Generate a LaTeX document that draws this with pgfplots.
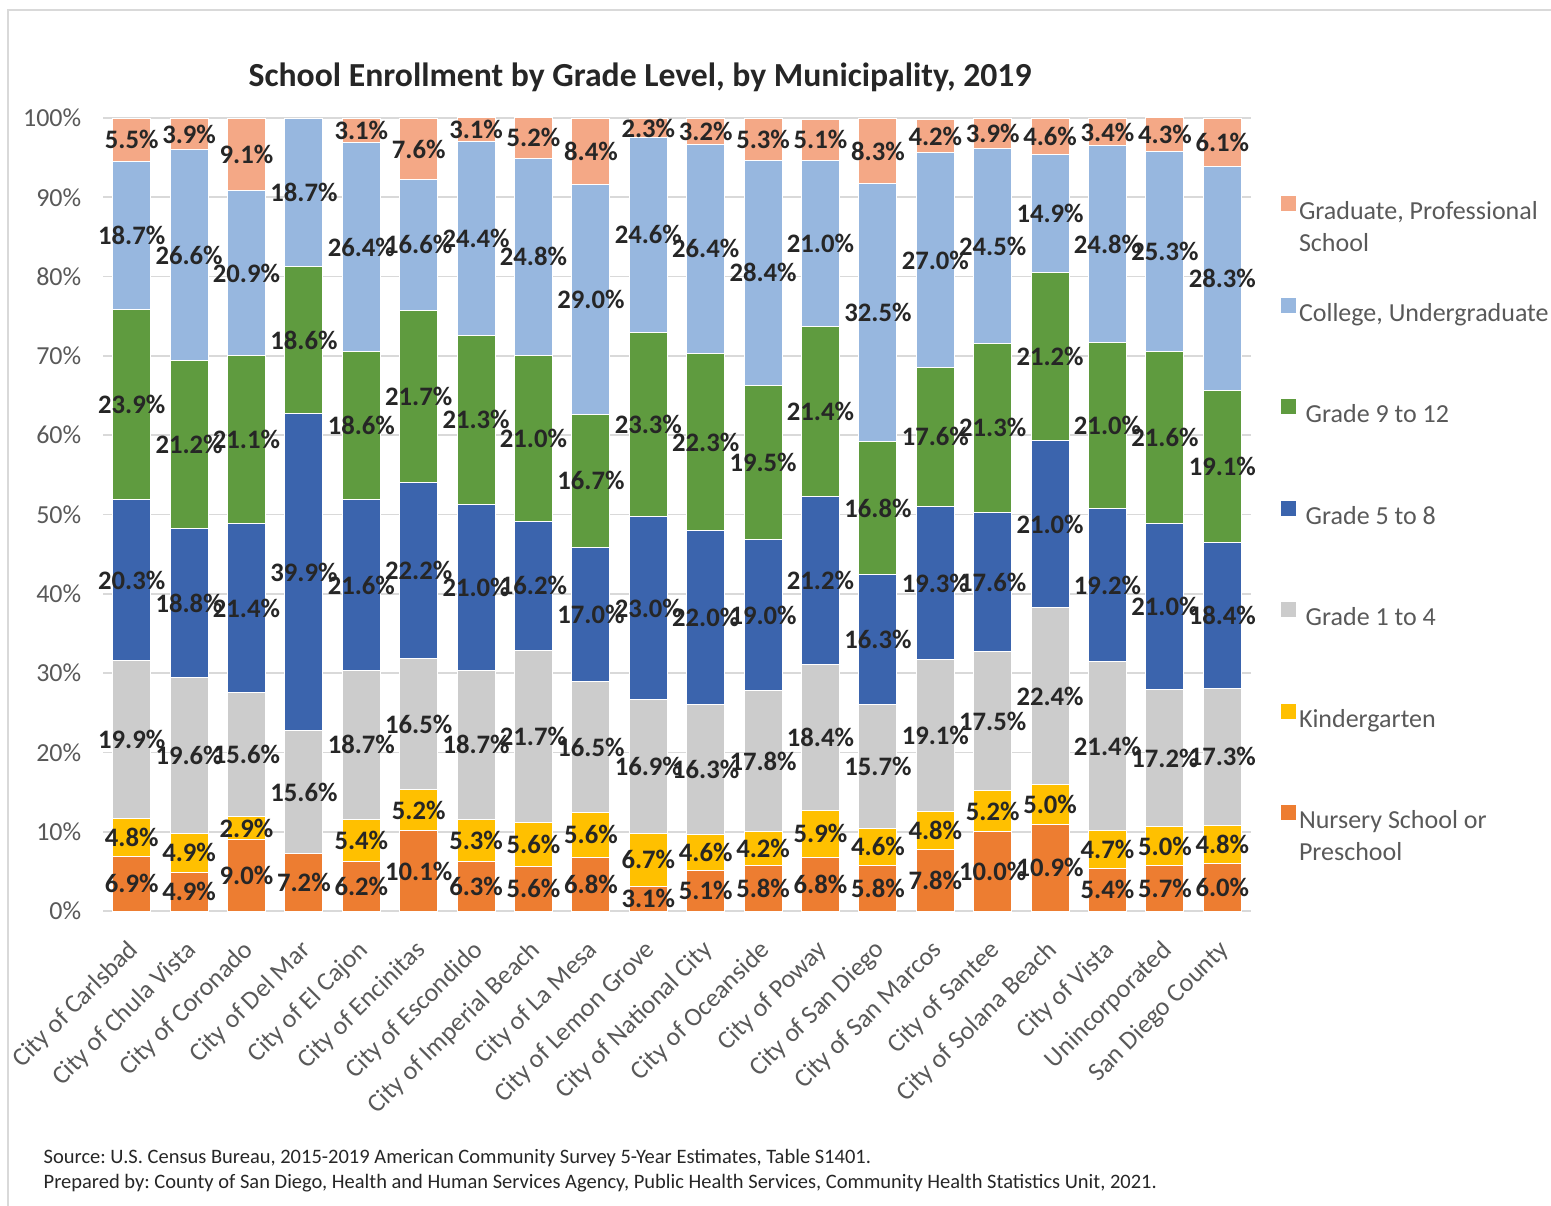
\documentclass[border=0pt]{standalone}
\usepackage{pgfplots}
\pgfplotsset{compat=1.18}
\usepackage{pgfplotstable}
\usepackage{fontspec}
\setmainfont{Carlito}
\frenchspacing
\definecolor{cNur}{HTML}{ED7D31}
\definecolor{cKin}{HTML}{FFC000}
\definecolor{cGa}{HTML}{CCCCCC}
\definecolor{cGb}{HTML}{3B64AD}
\definecolor{cGc}{HTML}{5F9B3F}
\definecolor{cCol}{HTML}{97B7DF}
\definecolor{cGrad}{HTML}{F4A886}
\definecolor{txtgray}{HTML}{595959}
\definecolor{lbl}{HTML}{262626}
\definecolor{gridc}{HTML}{D9D9D9}

\pgfplotstableread{
x nur kin ga gb gc col grad
0 6.9 4.8 19.9 20.3 23.9 18.7 5.5
1 4.9 4.9 19.6 18.8 21.2 26.6 3.9
2 9.0 2.9 15.6 21.4 21.1 20.9 9.1
3 7.2 0.0 15.6 39.9 18.6 18.7 0.0
4 6.2 5.4 18.7 21.6 18.6 26.4 3.1
5 10.1 5.2 16.5 22.2 21.7 16.6 7.6
6 6.3 5.3 18.7 21.0 21.3 24.4 3.1
7 5.6 5.6 21.7 16.2 21.0 24.8 5.2
8 6.8 5.6 16.5 17.0 16.7 29.0 8.4
9 3.1 6.7 16.9 23.0 23.3 24.6 2.3
10 5.1 4.6 16.3 22.0 22.3 26.4 3.2
11 5.8 4.2 17.8 19.0 19.5 28.4 5.3
12 6.8 5.9 18.4 21.2 21.4 21.0 5.1
13 5.8 4.6 15.7 16.3 16.8 32.5 8.3
14 7.8 4.8 19.1 19.3 17.6 27.0 4.2
15 10.0 5.2 17.5 17.6 21.3 24.5 3.9
16 10.9 5.0 22.4 21.0 21.2 14.9 4.6
17 5.4 4.7 21.4 19.2 21.0 24.8 3.4
18 5.7 5.0 17.2 21.0 21.6 25.3 4.3
19 6.0 4.8 17.3 18.4 19.1 28.3 6.1
}\data

\newcommand\axH{237.9}
\newcommand\lstrut{\rule[-2pt]{0pt}{8pt}}

\begin{document}
\begin{tikzpicture}
\useasboundingbox (0,0) rectangle (465.3pt,-361.5pt);
\draw[gridc, line width=0.4pt] (2.4pt,-365pt) -- (2.4pt,-3pt) -- (470pt,-3pt);
\begin{axis}[
  at={(30.9pt,-273.3pt)}, anchor=south west,
  scale only axis, width=344.4pt, height=\axH pt,
  ybar stacked, bar width=11.4pt,
  xmin=-0.5, xmax=19.5, ymin=0, ymax=100,
  xtick={0,...,19},
  xticklabels={City of Carlsbad, City of Chula Vista, City of Coronado, City of Del Mar, City of El Cajon, City of Encinitas, City of Escondido, City of Imperial Beach, City of La Mesa, City of Lemon Grove, City of National City, City of Oceanside, City of Poway, City of San Diego, City of San Marcos, City of Santee, City of Solana Beach, City of Vista, Unincorporated, San Diego County},
  ytick={0,10,...,100},
  yticklabel={\pgfmathprintnumber{\tick}\%},
  /pgf/number format/assume math mode=true,
  axis line style={draw=none},
  major tick length=0pt,
  ymajorgrids, grid style={gridc, line width=0.5pt},
  yticklabel style={font=\fontsize{7.8}{9.4}\selectfont, text=txtgray, xshift=-3pt},
  xticklabel style={xshift=-1.5pt, yshift=-8pt, rotate=45, anchor=north east, inner sep=0pt, font=\fontsize{7.8}{9.4}\selectfont, text=txtgray},
  clip=false,
  every axis plot/.append style={draw=white, line width=0.3pt},
  nodes near coords={\pgfmathprintnumber[fixed,fixed zerofill,precision=1]{\pgfplotspointmeta}\%},
  every node near coord/.append style={anchor=center, inner sep=0pt, font=\fontsize{8}{9.6}\selectfont\bfseries, text=lbl},
  legend style={at={(1,1)}, anchor=north west, xshift=8.7pt, yshift=-23.2pt, draw=none, fill=none, font=\fontsize{7.8}{9.6}\selectfont, text=txtgray, row sep=20.9pt, inner sep=0pt, nodes={inner sep=1pt}},
  legend image code/.code={\fill[#1, draw=none] (0pt,0.3pt) rectangle (4.5pt,4.8pt);},
  legend cell align=left,
  reverse legend,
]
\addplot[fill=cNur] table[x=x,y=nur]{\data};
\addplot[fill=cKin] table[x=x,y=kin]{\data};
\addplot[fill=cGa] table[x=x,y=ga]{\data};
\addplot[fill=cGb] table[x=x,y=gb]{\data};
\addplot[fill=cGc] table[x=x,y=gc]{\data};
\addplot[fill=cCol] table[x=x,y=col]{\data};
\addplot[fill=cGrad] table[x=x,y=grad]{\data};
\addlegendentry{\smash{\parbox[t]{80pt}{\raggedright Nursery School or\\Preschool}}\lstrut}
\addlegendentry{Kindergarten\lstrut}
\addlegendentry{\hspace{2pt}Grade 1 to 4\lstrut}
\addlegendentry{\hspace{2pt}Grade 5 to 8\lstrut}
\addlegendentry{\hspace{2pt}Grade 9 to 12\lstrut}
\addlegendentry{College, Undergraduate\lstrut}
\addlegendentry{\smash{\parbox[t]{80pt}{\raggedright Graduate, Professional\\School}}\lstrut}
\end{axis}
\node[anchor=base, font=\fontsize{10.1}{12}\selectfont\bfseries, text=lbl] at (192pt,-25.8pt) {School Enrollment by Grade Level, by Municipality, 2019};
\node[anchor=base west, inner sep=0pt, font=\fontsize{6.15}{7}\selectfont, text=lbl] at (12.9pt,-348.9pt) {Source: U.S. Census Bureau, 2015-2019 American Community Survey 5-Year Estimates, Table S1401.};
\node[anchor=base west, inner sep=0pt, font=\fontsize{6.15}{7}\selectfont, text=lbl] at (12.9pt,-356.4pt) {Prepared by: County of San Diego, Health and Human Services Agency, Public Health Services, Community Health Statistics Unit, 2021.};
\end{tikzpicture}
\end{document}
